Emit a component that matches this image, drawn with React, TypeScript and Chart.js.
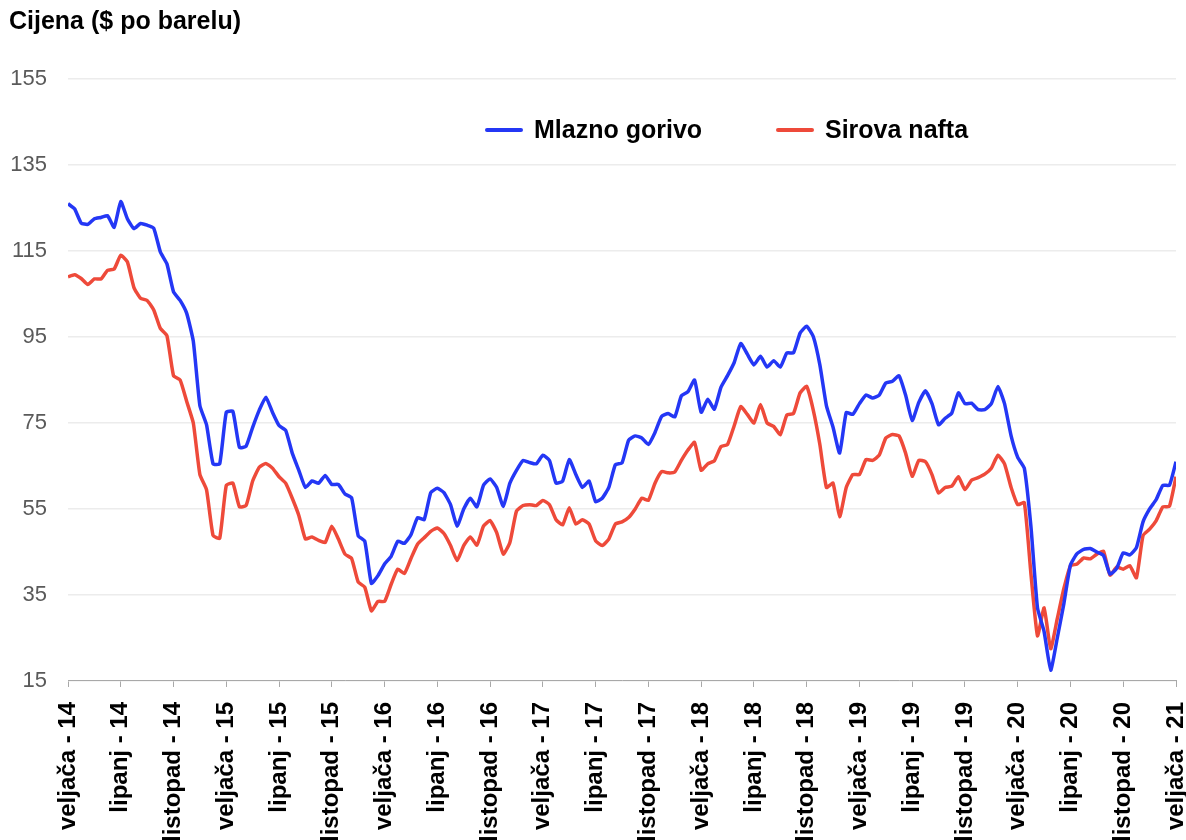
import React, { useEffect, useRef } from "react";
import { Chart, registerables } from "chart.js";

Chart.register(...registerables);

const titleText = "Cijena ($ po barelu)";
const seriesNames = ["Mlazno gorivo", "Sirova nafta"];
const seriesColors = ["#2437f5", "#ee4a3a"];

const xTickLabels = [
  "veljača - 14", "lipanj - 14", "listopad - 14",
  "veljača - 15", "lipanj - 15", "listopad - 15",
  "veljača - 16", "lipanj - 16", "listopad - 16",
  "veljača - 17", "lipanj - 17", "listopad - 17",
  "veljača - 18", "lipanj - 18", "listopad - 18",
  "veljača - 19", "lipanj - 19", "listopad - 19",
  "veljača - 20", "lipanj - 20", "listopad - 20",
  "veljača - 21",
];

const yTicks = [15, 35, 55, 75, 95, 115, 135, 155];

// half-monthly samples, Feb 2014 .. Feb 2021
const jetFuel = [
  126.0, 124.8, 121.5, 121.2, 122.5, 122.8, 123.2, 120.5, 126.5, 122.5,
  120.2, 121.4, 121.0, 120.3, 114.8, 112.0, 105.5, 103.5, 100.5, 94.0,
  79.0, 74.6, 65.5, 65.5, 77.5, 77.7, 69.3, 69.6, 74.0, 78.0,
  81.0, 77.5, 74.4, 73.3, 68.0, 64.0, 60.0, 61.5, 61.0, 62.8,
  60.7, 60.7, 58.5, 57.6, 48.8, 47.5, 37.7, 39.5, 42.2, 44.0,
  47.5, 47.0, 49.0, 53.0, 52.5, 58.8, 59.8, 58.8, 56.0, 51.0,
  55.0, 57.5, 55.5, 60.5, 62.0, 60.0, 55.6, 61.0, 64.0, 66.3,
  65.8, 65.5, 67.5, 66.3, 61.0, 61.5, 66.5, 63.0, 60.0, 61.5,
  56.7, 57.5, 60.0, 65.3, 65.7, 71.0, 72.0, 71.5, 70.0, 72.8,
  76.5, 77.2, 76.4, 81.3, 82.3, 85.0, 77.5, 80.5, 78.2, 83.3,
  86.0, 89.0, 93.5, 91.0, 88.5, 90.5, 88.0, 89.5, 88.0, 91.3,
  91.3, 95.9, 97.5, 95.1, 88.5, 79.0, 74.0, 68.0, 77.4, 77.0,
  79.5, 81.5, 80.8, 81.5, 84.3, 84.7, 86.0, 81.5, 75.6, 79.8,
  82.5, 79.5, 74.6, 76.1, 77.3, 82.0, 79.5, 79.6, 78.1, 78.1,
  79.5, 83.5, 79.5, 72.0, 67.0, 64.5, 51.0, 32.0, 26.5, 17.5,
  25.0, 33.0, 42.0, 44.6, 45.6, 45.8, 45.0, 44.2, 39.8, 41.2,
  44.8, 44.3, 46.0, 52.0, 55.0, 57.2, 60.5, 60.5, 66.0,
];

const crudeOil = [
  109.0, 109.5, 108.6, 107.2, 108.5, 108.5, 110.5, 110.8, 114.0, 112.5,
  106.5, 104.0, 103.5, 101.3, 97.0, 95.3, 86.0, 85.0, 80.0, 75.0,
  63.0, 59.5, 48.8, 48.2, 60.5, 61.0, 55.5, 55.8, 61.5, 64.7,
  65.6, 64.5, 62.5, 61.0, 57.5, 53.5, 48.0, 48.5, 47.7, 47.2,
  51.0, 48.0, 44.5, 43.5, 38.0, 36.8, 31.3, 33.5, 33.5, 37.5,
  41.0, 40.0, 43.5, 46.8, 48.3, 49.8, 50.6, 49.3, 46.5, 43.0,
  46.5, 48.5, 46.6, 51.0, 52.3, 49.5, 44.5, 47.2, 54.5, 55.8,
  56.0, 55.8, 57.0, 56.0, 52.5, 51.3, 55.3, 51.5, 52.5, 51.5,
  47.6, 46.5, 48.0, 51.5, 52.0, 53.0, 55.0, 57.5, 57.0, 61.0,
  63.7, 63.4, 63.6, 66.3, 68.7, 70.5, 64.0, 65.5, 66.2, 69.5,
  70.0, 74.3, 78.8, 77.0, 75.0, 79.3, 75.0, 74.2, 72.3, 76.9,
  77.2, 82.0, 83.5, 78.0, 70.0, 60.0, 61.0, 53.2, 60.0, 63.0,
  63.0, 66.5, 66.3, 67.5, 71.5, 72.3, 72.0, 68.0, 62.6, 66.3,
  66.0, 63.0, 58.7, 60.0, 60.3, 62.5, 59.5, 61.7, 62.3, 63.1,
  64.5, 67.5, 65.5, 60.0, 56.0, 56.5, 40.0, 25.5, 32.0, 22.5,
  29.5, 36.5, 41.8, 42.2, 43.6, 43.4, 44.5, 45.2, 39.6, 41.5,
  41.0, 41.8, 39.0, 48.8, 50.3, 52.3, 55.5, 55.6, 62.5,
];

const MONTHS_PER_SAMPLE = 0.5;
const FONT = '"Liberation Sans", Arial, Helvetica, sans-serif';

const toPoints = (values: number[]) =>
  values.map((v, i) => ({ x: i * MONTHS_PER_SAMPLE, y: v }));

const inlineLegend = {
  id: "inlineLegend",
  afterDatasetsDraw(chart: any) {
    const { ctx, chartArea } = chart;
    ctx.save();
    ctx.font = `bold 25px ${FONT}`;
    ctx.textBaseline = "middle";
    ctx.textAlign = "left";
    const y = chartArea.top + 51;
    const starts = [chartArea.left + 419, chartArea.left + 710];
    seriesNames.forEach((name, i) => {
      const x0 = starts[i];
      ctx.strokeStyle = seriesColors[i];
      ctx.lineWidth = 4;
      ctx.lineCap = "round";
      ctx.beginPath();
      ctx.moveTo(x0, y);
      ctx.lineTo(x0 + 34, y);
      ctx.stroke();
      ctx.fillStyle = "#000";
      ctx.fillText(name, x0 + 47, y + 1);
    });
    ctx.restore();
  },
};

export default function App() {
  const canvasRef = useRef<HTMLCanvasElement | null>(null);

  useEffect(() => {
    const canvas = canvasRef.current;
    if (!canvas) return;
    const chart = new Chart(canvas, {
      type: "line",
      data: {
        datasets: [
          {
            label: seriesNames[0],
            data: toPoints(jetFuel),
            borderColor: seriesColors[0],
            backgroundColor: seriesColors[0],
            borderWidth: 3.5,
            pointRadius: 0,
            tension: 0.15,
            fill: false,
          },
          {
            label: seriesNames[1],
            data: toPoints(crudeOil),
            borderColor: seriesColors[1],
            backgroundColor: seriesColors[1],
            borderWidth: 3.5,
            pointRadius: 0,
            tension: 0.15,
            fill: false,
          },
        ],
      },
      options: {
        responsive: false,
        animation: false,
        devicePixelRatio: 1,
        layout: { padding: { left: 9, right: 10, top: 0, bottom: 0 } },
        plugins: {
          legend: { display: false },
          tooltip: { enabled: false },
          title: {
            display: true,
            text: titleText,
            align: "start",
            color: "#000",
            font: { family: FONT, size: 25, weight: "bold" },
            padding: { top: 7, bottom: 42 },
          },
        },
        scales: {
          x: {
            type: "linear",
            min: 0,
            max: 84,
            afterFit: (axis: any) => {
              axis.paddingLeft = 0;
              axis.paddingRight = 0;
            },
            grid: {
              display: true,
              drawOnChartArea: false,
              drawTicks: true,
              tickLength: 6,
              color: "#a8a8a8",
            },
            border: { display: true, color: "#a8a8a8" },
            ticks: {
              stepSize: 4,
              autoSkip: false,
              maxRotation: 90,
              minRotation: 90,
              padding: 15,
              color: "#000",
              font: { family: FONT, size: 24, weight: "bold" },
              callback: (v: any) => xTickLabels[Math.round(Number(v) / 4)] ?? "",
            },
          },
          y: {
            min: 15,
            max: 155,
            afterBuildTicks: (axis: any) => {
              axis.ticks = yTicks.map((v) => ({ value: v }));
            },
            afterFit: (axis: any) => {
              axis.width = 59;
            },
            grid: { color: "#ececec", drawTicks: false, lineWidth: 1.5 },
            border: { display: false },
            ticks: {
              padding: 21,
              color: "#5a5a5a",
              font: { family: FONT, size: 22 },
            },
          },
        },
      },
      plugins: [inlineLegend],
    });
    return () => chart.destroy();
  }, []);

  return (
    <div style={{ position: "fixed", left: 0, top: 0, width: 1186, height: 840, overflow: "hidden", background: "#fff" }}>
      <canvas ref={canvasRef} width={1186} height={857} />
    </div>
  );
}
